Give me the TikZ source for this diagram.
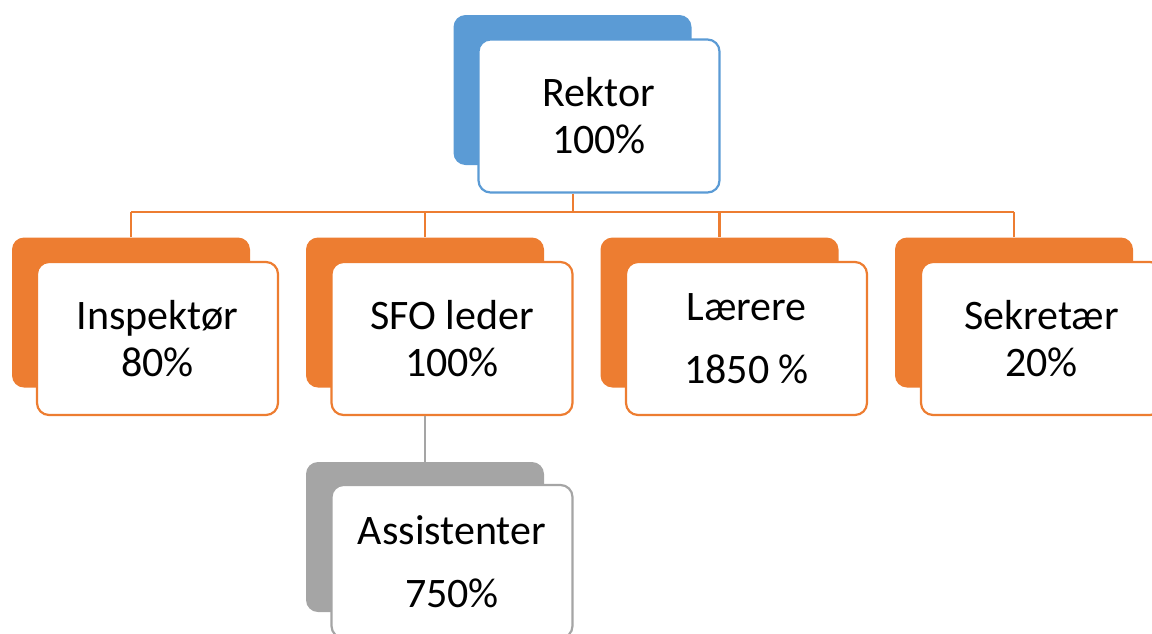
\documentclass[tikz,border=0pt]{standalone}
\usepackage{fontspec}
\setmainfont{Carlito}
\definecolor{cblue}{HTML}{5B9BD5}
\definecolor{corange}{HTML}{ED7D31}
\definecolor{cgray}{HTML}{A5A5A5}
\begin{document}
\begin{tikzpicture}[x=1pt,y=-1pt,
  back/.style={rounded corners=12pt, minimum width=238pt, minimum height=150pt, inner sep=0pt},
  front/.style={rounded corners=12pt, minimum width=241pt, minimum height=153pt, inner sep=0pt,
    fill=white, line width=2.2pt, align=center, font=\fontsize{42}{47}\selectfont, text=black},
  conn/.style={line width=2.4pt}]
\useasboundingbox (0,0) rectangle (1152,633);
\clip (0,0) rectangle (1152,633);
% Rektor
\node[back, fill=cblue] (rB) at (572.5,90) {};
\node[front, draw=cblue] (rF) at (599,116) {Rektor\\100\%};
% Level 2
\node[back, fill=corange] (iB) at (131,312.5) {};
\node[front, draw=corange] (iF) at (157.5,338.5) {Inspektør\\80\%};
\node[back, fill=corange] (sB) at (425,312.5) {};
\node[front, draw=corange] (sF) at (452,338.5) {SFO leder\\100\%};
\node[back, fill=corange] (lB) at (719.5,312.5) {};
\node[front, draw=corange] (lF) at (746.5,338.5) {Lærere\\[16pt]1850 \%};
\node[back, fill=corange] (kB) at (1014,312.5) {};
\node[front, draw=corange] (kF) at (1041.5,338.5) {Sekretær\\20\%};
% Level 3
\node[back, fill=cgray] (aB) at (425,537) {};
\node[front, draw=cgray] (aF) at (452,561.5) {Assistenter\\[16pt]750\%};
% Connectors
\coordinate (bus) at (573,212);
\draw[conn, corange] (bus |- rF.south) -- (bus);
\draw[conn, corange] (bus -| iB.north) -- (bus -| kB.north);
\draw[conn, corange] (iB.north) -- (iB.north |- bus);
\draw[conn, corange] (sB.north) -- (sB.north |- bus);
\draw[conn, corange] (lB.north) -- (lB.north |- bus);
\draw[conn, corange] (kB.north) -- (kB.north |- bus);
\draw[conn, cgray] (sF.south -| aB.north) -- (aB.north);
\end{tikzpicture}
\end{document}
